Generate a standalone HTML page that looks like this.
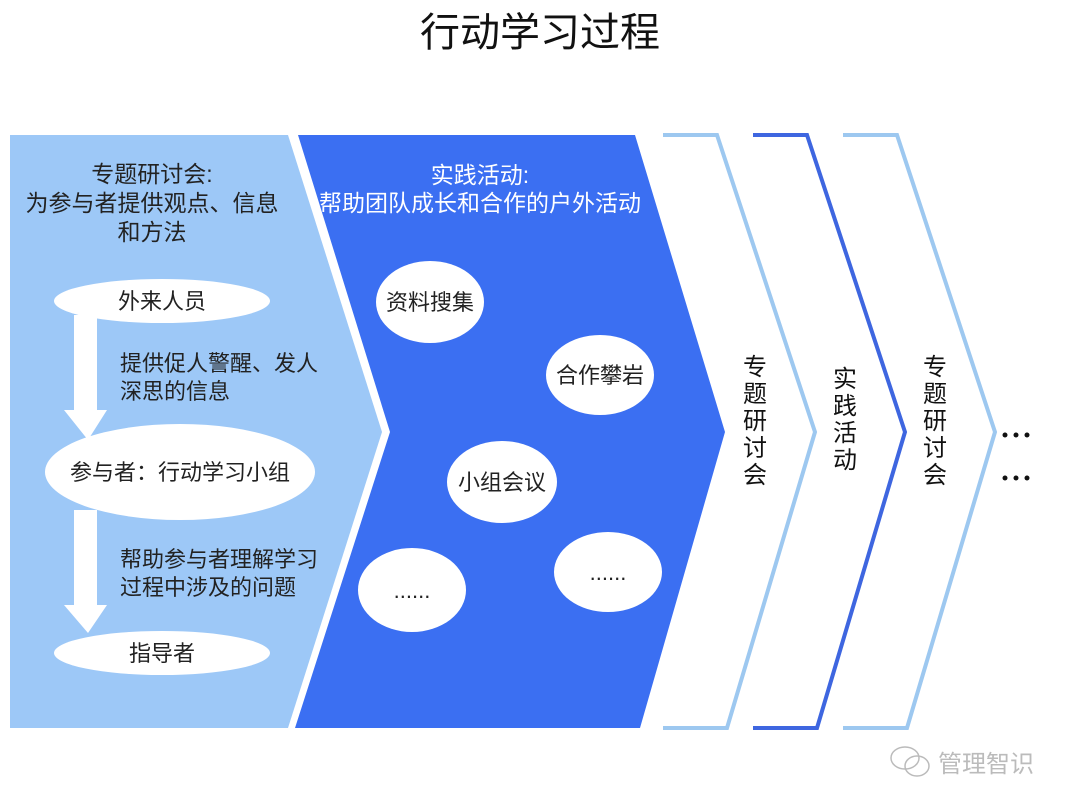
<!DOCTYPE html>
<html><head><meta charset="utf-8"><style>
html,body{margin:0;padding:0;background:#fff;}
svg{display:block;font-family:"Liberation Sans","Noto Sans CJK SC",sans-serif;}
</style></head><body>
<svg width="1080" height="810" viewBox="0 0 1080 810" xmlns="http://www.w3.org/2000/svg">
<rect width="1080" height="810" fill="#fff"/>
<text x="540" y="46" font-size="40" text-anchor="middle" fill="#111">行动学习过程</text>
<polygon points="10,135 288,135 382,432 288,728 10,728" fill="#9dc8f7"/>
<polygon points="298,135 635,135 725,432 640,728 295,728 390,432" fill="#3b6ff2"/>
<polyline points="663,135 717,135 815,432 727,728 663,728" fill="none" stroke="#9dc8f0" stroke-width="4"/>
<polyline points="753,135 807,135 905,432 817,728 753,728" fill="none" stroke="#3e66e0" stroke-width="4"/>
<polyline points="843,135 897,135 995,432 907,728 843,728" fill="none" stroke="#9dc8f0" stroke-width="4"/>
<g font-size="24" fill="#111" text-anchor="middle">
<text x="755" y="375">专</text><text x="755" y="402">题</text><text x="755" y="429">研</text><text x="755" y="456">讨</text><text x="755" y="483">会</text>
<text x="845" y="387">实</text><text x="845" y="414">践</text><text x="845" y="441">活</text><text x="845" y="468">动</text>
<text x="935" y="375">专</text><text x="935" y="402">题</text><text x="935" y="429">研</text><text x="935" y="456">讨</text><text x="935" y="483">会</text>
</g>
<g fill="#111"><circle cx="1005" cy="435" r="2.5"/><circle cx="1016" cy="435" r="2.5"/><circle cx="1027" cy="435" r="2.5"/>
<circle cx="1005" cy="478" r="2.5"/><circle cx="1016" cy="478" r="2.5"/><circle cx="1027" cy="478" r="2.5"/></g>
<g font-size="23" fill="#222" text-anchor="middle">
<text x="152" y="182">专题研讨会:</text>
<text x="152" y="211">为参与者提供观点、信息</text>
<text x="152" y="240">和方法</text>
</g>
<polygon points="74,315 97,315 97,410 107,410 88,440 64,410 74,410" fill="#fff"/>
<polygon points="74,510 97,510 97,605 107,605 88,633 64,605 74,605" fill="#fff"/>
<ellipse cx="162" cy="301" rx="108" ry="22" fill="#fff"/>
<ellipse cx="180" cy="472" rx="135" ry="48" fill="#fff"/>
<ellipse cx="162" cy="653" rx="108" ry="22" fill="#fff"/>
<g font-size="22" fill="#222">
<text x="162" y="309" text-anchor="middle">外来人员</text>
<text x="180" y="480" text-anchor="middle">参与者：行动学习小组</text>
<text x="162" y="661" text-anchor="middle">指导者</text>
<text x="120" y="371">提供促人警醒、发人</text>
<text x="120" y="399">深思的信息</text>
<text x="120" y="567">帮助参与者理解学习</text>
<text x="120" y="595">过程中涉及的问题</text>
</g>
<g font-size="23" fill="#fff" text-anchor="middle">
<text x="480" y="183">实践活动:</text>
<text x="480" y="211">帮助团队成长和合作的户外活动</text>
</g>
<g fill="#fff">
<ellipse cx="430" cy="302" rx="54" ry="41"/>
<ellipse cx="600" cy="375" rx="54" ry="40"/>
<ellipse cx="502" cy="482" rx="55" ry="41"/>
<ellipse cx="412" cy="590" rx="54" ry="42"/>
<ellipse cx="608" cy="572" rx="54" ry="40"/>
</g>
<g font-size="22" fill="#222" text-anchor="middle">
<text x="430" y="310">资料搜集</text>
<text x="600" y="383">合作攀岩</text>
<text x="502" y="490">小组会议</text>
<text x="412" y="598">......</text>
<text x="608" y="580">......</text>
</g>
<g fill="none" stroke="#bbb" stroke-width="1.5">
<ellipse cx="905" cy="758" rx="14" ry="11"/>
<ellipse cx="917" cy="766" rx="12" ry="10"/>
</g>
<text x="938" y="772" font-size="24" fill="#bbb">管理智识</text>
</svg>
</body></html>
